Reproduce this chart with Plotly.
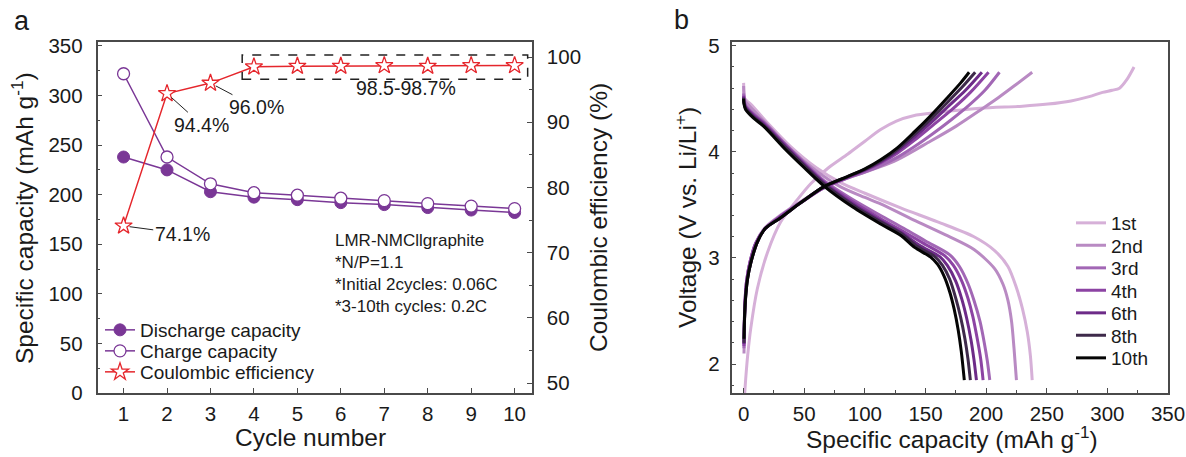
import plotly.graph_objects as go

W, H = 1186, 457
FONT = "Liberation Sans, Arial, sans-serif"
INK = "#1a1a1a"
AXIS = "#4a4a4a"

# ---------------- panel a: cycling data ----------------
cycles = [1, 2, 3, 4, 5, 6, 7, 8, 9, 10]
discharge_cap = [238, 225, 203, 197.5, 195, 192, 190, 187, 184.5, 182]
charge_cap = [322, 238, 211, 202, 199.5, 196.5, 194, 191, 188.5, 186]
coulombic_eff = [74.1, 94.4, 96.0, 98.5, 98.6, 98.6, 98.7, 98.6, 98.7, 98.7]
ce_labels = ["74.1%", "94.4%", "96.0%"]
ce_label_cycles = [1, 2, 3]
ce_label_text_pos = [(2.35, 72.9), (2.8, 89.6), (4.05, 92.3)]
cell_notes = ["LMR-NMCllgraphite", "*N/P=1.1",
              "*Initial 2cycles: 0.06C", "*3-10th cycles: 0.2C"]

# ---------------- panel b: voltage profiles ----------------
curve_labels = ["1st", "2nd", "3rd", "4th", "6th", "8th", "10th"]
curve_colors = ["#d6b0d8", "#b98ac3", "#a267b5", "#8c43a3", "#6d2b88", "#3e2a4a", "#050505"]

chg_1st_x = [0.3, 0.8, 1.7, 3.5, 5.8, 11.3, 19.6, 30.5, 44.3, 55.3, 70, 86, 100, 113, 126, 140,
             160, 195, 230, 251, 270, 285, 296, 304, 310, 316, 322]
chg_1st_y = [1.6, 1.71, 1.86, 2.1, 2.33, 2.71, 3.05, 3.34, 3.55, 3.70, 3.85, 3.98, 4.10, 4.21, 4.29,
             4.34, 4.37, 4.41, 4.43, 4.45, 4.48, 4.52, 4.56, 4.58, 4.60, 4.68, 4.80]
dis_1st_x = [0, 0.3, 1, 5.8, 20, 38.8, 60, 80, 100, 130, 160, 190, 207, 218, 225, 230, 234, 236.5, 238]
dis_1st_y = [4.65, 4.55, 4.5, 4.45, 4.27, 4.05, 3.85, 3.71, 3.61, 3.47, 3.34, 3.2, 3.07, 2.92,
             2.72, 2.52, 2.3, 2.08, 1.85]

chg_2nd_x = [0.3, 0.6, 1.2, 2.5, 5, 10, 18, 30, 47, 66, 85, 100, 124, 154, 175, 196, 210, 223, 238]
chg_2nd_y = [2.1, 2.35, 2.58, 2.78, 2.95, 3.14, 3.29, 3.4, 3.53, 3.66, 3.75, 3.81, 3.91, 4.10,
             4.24, 4.40, 4.51, 4.62, 4.75]
dis_2nd_x = [0, 0.3, 1.2, 5, 20, 38, 60, 80, 100, 113, 140, 168, 190, 207, 214, 218, 221, 223, 225]
dis_2nd_y = [4.62, 4.54, 4.48, 4.43, 4.25, 4.03, 3.82, 3.67, 3.57, 3.51, 3.36, 3.21, 3.08, 2.90,
             2.75, 2.60, 2.40, 2.15, 1.85]

chg_3rd_x = [0.3, 0.6, 1.2, 2.5, 5, 10, 18, 30, 47, 66, 85, 100, 113, 127, 141, 156, 171, 186, 199, 211]
chg_3rd_y = [2.15, 2.4, 2.6, 2.79, 2.95, 3.14, 3.28, 3.39, 3.52, 3.66, 3.75, 3.81, 3.87, 3.95,
             4.05, 4.17, 4.30, 4.44, 4.58, 4.75]
dis_3rd_x = [0, 0.3, 1.6, 8, 16.6, 34.7, 50, 66, 90, 113, 132, 150, 170, 178, 185, 190, 195, 198.5, 201, 203]
dis_3rd_y = [4.55, 4.49, 4.44, 4.36, 4.28, 4.07, 3.9, 3.73, 3.55, 3.40, 3.28, 3.16, 3.03, 2.92,
             2.76, 2.6, 2.4, 2.2, 2.03, 1.85]

chg_4th_x = [0.3, 0.6, 1.2, 2.5, 5, 10, 18, 30, 47, 66, 85, 100, 113, 127, 141, 156, 171, 187, 202]
chg_4th_y = [2.17, 2.41, 2.61, 2.79, 2.95, 3.14, 3.28, 3.39, 3.52, 3.66, 3.755, 3.825, 3.895, 3.99,
             4.11, 4.25, 4.39, 4.56, 4.75]
dis_4th_x = [0, 0.3, 1.6, 8, 16.6, 34.7, 50, 66, 90, 113, 130, 148, 166, 173, 180, 185, 189, 192.5, 195.5, 197.5]
dis_4th_y = [4.53, 4.48, 4.43, 4.35, 4.27, 4.06, 3.89, 3.72, 3.53, 3.37, 3.26, 3.14, 3.02, 2.93,
             2.78, 2.62, 2.45, 2.25, 2.05, 1.85]

chg_6th_x = [0.3, 0.7, 1.5, 3, 5.8, 11.3, 18, 30.5, 47, 66, 85, 100, 113, 127, 141, 155, 168, 183, 196.5]
chg_6th_y = [2.19, 2.42, 2.62, 2.8, 2.95, 3.15, 3.28, 3.38, 3.52, 3.67, 3.76, 3.83, 3.905, 4.01,
             4.14, 4.28, 4.42, 4.58, 4.75]
dis_6th_x = [0, 0.3, 1.6, 8, 16.6, 34.7, 50, 66, 90, 113, 130, 145, 162, 168, 175, 180, 184, 187.5, 190, 192]
dis_6th_y = [4.52, 4.47, 4.42, 4.34, 4.26, 4.05, 3.88, 3.71, 3.51, 3.35, 3.24, 3.12, 3.01, 2.93,
             2.78, 2.61, 2.43, 2.23, 2.04, 1.85]

chg_8th_x = [0.3, 0.8, 1.7, 3.2, 5.8, 11.3, 18, 30.5, 47, 66, 85, 100, 113, 127, 141, 155, 168, 181, 191]
chg_8th_y = [2.2, 2.43, 2.63, 2.8, 2.95, 3.15, 3.28, 3.38, 3.52, 3.67, 3.763, 3.835, 3.915, 4.025,
             4.165, 4.315, 4.465, 4.62, 4.75]
dis_8th_x = [0, 0.3, 1.6, 8, 16.6, 34.7, 50, 66, 90, 113, 130, 143, 158, 164, 170, 175, 179, 182.5, 185, 187]
dis_8th_y = [4.51, 4.46, 4.41, 4.33, 4.25, 4.04, 3.87, 3.70, 3.50, 3.34, 3.23, 3.11, 3.01, 2.93,
             2.8, 2.62, 2.44, 2.24, 2.05, 1.85]

chg_10th_x = [0.3, 0.8, 1.7, 3.2, 5.8, 11.3, 18, 30.5, 47, 66, 85, 100, 113, 127, 141, 155, 168, 179, 186]
chg_10th_y = [2.24, 2.45, 2.64, 2.8, 2.95, 3.15, 3.28, 3.38, 3.52, 3.67, 3.765, 3.84, 3.925, 4.04,
              4.19, 4.35, 4.51, 4.65, 4.75]
dis_10th_x = [0, 0.3, 1.6, 8, 16.6, 34.7, 50, 66, 90, 113, 130, 141, 154, 160, 165.3, 170, 173.6, 177, 179.5, 182]
dis_10th_y = [4.50, 4.45, 4.40, 4.32, 4.24, 4.02, 3.85, 3.68, 3.48, 3.32, 3.21, 3.10, 3.01, 2.94,
              2.83, 2.68, 2.52, 2.32, 2.12, 1.85]

profiles = [
    (chg_1st_x, chg_1st_y, dis_1st_x, dis_1st_y),
    (chg_2nd_x, chg_2nd_y, dis_2nd_x, dis_2nd_y),
    (chg_3rd_x, chg_3rd_y, dis_3rd_x, dis_3rd_y),
    (chg_4th_x, chg_4th_y, dis_4th_x, dis_4th_y),
    (chg_6th_x, chg_6th_y, dis_6th_x, dis_6th_y),
    (chg_8th_x, chg_8th_y, dis_8th_x, dis_8th_y),
    (chg_10th_x, chg_10th_y, dis_10th_x, dis_10th_y),
]


def px(x):
    return x / W


def py(y):
    return 1 - y / H


PURPLE = "#7a3796"
RED = "#e5262c"

fig = go.Figure()

fig.add_trace(go.Scatter(
    x=cycles, y=discharge_cap, name="Discharge capacity", mode="lines+markers",
    line=dict(color=PURPLE, width=1.5),
    marker=dict(symbol="circle", size=12, color=PURPLE, line=dict(color=PURPLE, width=1)),
    xaxis="x", yaxis="y", legend="legend"))
fig.add_trace(go.Scatter(
    x=cycles, y=charge_cap, name="Charge capacity", mode="lines+markers",
    line=dict(color=PURPLE, width=1.5),
    marker=dict(symbol="circle", size=12, color="white", line=dict(color=PURPLE, width=1.3)),
    xaxis="x", yaxis="y", legend="legend2"))
fig.add_trace(go.Scatter(
    x=cycles, y=coulombic_eff, name="Coulombic efficiency", mode="lines+markers",
    line=dict(color=RED, width=1.5),
    marker=dict(symbol="star", size=13, color="white", line=dict(color=RED, width=1.3)),
    xaxis="x", yaxis="y2", legend="legend3"))

for i, (lab, col, (cx, cy, dx, dy)) in enumerate(zip(curve_labels, curve_colors, profiles)):
    fig.add_trace(go.Scatter(
        x=list(cx) + [None] + list(dx), y=list(cy) + [None] + list(dy),
        name=lab, mode="lines", line=dict(color=col, width=3, shape="spline", smoothing=0.8),
        xaxis="x3", yaxis="y3", legend=f"legend{4 + i}"))

# ---- axes ----
tickfont = dict(family=FONT, size=20.5, color=INK)
common = dict(showline=True, linecolor=AXIS, linewidth=1.5, ticks="inside", ticklen=5,
              tickcolor=AXIS, tickwidth=1.3, showgrid=False, zeroline=False, tickfont=tickfont)

left_dom_x = [px(97.5), px(532)]
left_dom_y = [py(393), py(42)]
right_dom_x = [px(731.5), px(1168)]
right_dom_y = [py(393), py(42)]

fig.update_layout(
    xaxis=dict(domain=left_dom_x, range=[0.4, 10.4], tickvals=cycles, anchor="y", mirror=True,
               ticklabelstandoff=2, **common),
    yaxis=dict(domain=left_dom_y, range=[0, 354], tickvals=[0, 50, 100, 150, 200, 250, 300, 350],
               anchor="x", ticklabelstandoff=9,
               minor=dict(ticks="inside", ticklen=3, tickcolor=AXIS, dtick=25, tick0=0, showgrid=False),
               **common),
    yaxis2=dict(range=[48.47, 102.3], tickvals=[50, 60, 70, 80, 90, 100], overlaying="y",
                side="right", anchor="x", ticklabelstandoff=9,
                minor=dict(ticks="inside", ticklen=3, tickcolor=AXIS, dtick=5, tick0=0, showgrid=False),
                **common),
    xaxis3=dict(domain=right_dom_x, range=[-10, 350], tickvals=[0, 50, 100, 150, 200, 250, 300, 350],
                anchor="y3", mirror=True, ticklabelstandoff=2,
                minor=dict(ticks="inside", ticklen=3, tickcolor=AXIS, dtick=25, tick0=0, showgrid=False),
                **common),
    yaxis3=dict(domain=right_dom_y, range=[1.728, 5.035], tickvals=[2, 3, 4, 5], anchor="x3",
                mirror=True, ticklabelstandoff=6,
                minor=dict(ticks="inside", ticklen=3, tickcolor=AXIS, dtick=0.2, tick0=0, showgrid=False),
                **common),
)

# ---- legends (one per entry for tight spacing) ----
legend_font = dict(family=FONT, size=19, color=INK)
left_leg_y = [330, 351, 372]
for i, yy in enumerate(left_leg_y):
    key = "legend" if i == 0 else f"legend{i + 1}"
    fig.layout[key] = dict(x=px(100), y=py(yy), xanchor="left", yanchor="middle",
                           bgcolor="rgba(0,0,0,0)", borderwidth=0, font=legend_font,
                           itemwidth=30, tracegroupgap=0)
right_leg_y = [223, 245.5, 268, 290.5, 313, 335.5, 358]
for i, yy in enumerate(right_leg_y):
    fig.layout[f"legend{4 + i}"] = dict(x=px(1071), y=py(yy), xanchor="left", yanchor="middle",
                                        bgcolor="rgba(0,0,0,0)", borderwidth=0, font=legend_font,
                                        itemwidth=30, tracegroupgap=0)

# ---- annotations ----
ann = []
for lab, cyc, (tx, ty) in zip(ce_labels, ce_label_cycles, ce_label_text_pos):
    ann.append(dict(x=cyc, y=coulombic_eff[cyc - 1], xref="x", yref="y2",
                    ax=tx, ay=ty, axref="x", ayref="y2", text=lab, showarrow=True,
                    arrowhead=0, arrowwidth=1, arrowcolor="#222", standoff=6,
                    font=dict(family=FONT, size=19.5, color=INK)))
ann.append(dict(x=7.5, y=95.3, xref="x", yref="y2", text="98.5-98.7%", showarrow=False,
                xanchor="center", yanchor="middle",
                font=dict(family=FONT, size=19.5, color=INK)))
ann.append(dict(x=5.82, y=py(229), xref="x", yref="paper", xanchor="left", yanchor="top",
                align="left", text="<br>".join(cell_notes), showarrow=False,
                font=dict(family=FONT, size=17, color=INK)))

# axis titles and panel letters
title_font = dict(family=FONT, size=24.5, color=INK)
titles = [
    (310, 437, "Cycle number", 0),
    (952, 437, "Specific capacity (mAh g<sup>-1</sup>)", 0),
    (22, 218, "Specific capacity (mAh g<sup>-1</sup>)", -90),
    (598, 218, "Coulombic efficiency (%)", -90),
    (685, 218, "Voltage (V vs. Li/Li<sup>+</sup>)", -90),
]
for tx, ty, txt, ang in titles:
    ann.append(dict(x=px(tx), y=py(ty), xref="paper", yref="paper", text=txt, textangle=ang,
                    xanchor="center", yanchor="middle", showarrow=False, font=title_font))
for tx, ty, txt in [(22, 21, "a"), (681, 20, "b")]:
    ann.append(dict(x=px(tx), y=py(ty), xref="paper", yref="paper", text=txt,
                    xanchor="center", yanchor="middle", showarrow=False,
                    font=dict(family=FONT, size=27, color=INK)))

fig.update_layout(
    annotations=ann,
    shapes=[dict(type="rect", xref="x", yref="y2", x0=3.73, x1=10.3, y0=96.6, y1=100.3,
                 line=dict(color="#222", width=1.5, dash="dash"), fillcolor="rgba(0,0,0,0)")],
    width=W, height=H, margin=dict(l=0, r=0, t=0, b=0, autoexpand=False),
    paper_bgcolor="white", plot_bgcolor="white",
    font=dict(family=FONT, color=INK),
    showlegend=True,
)

fig.write_html("out.html")
